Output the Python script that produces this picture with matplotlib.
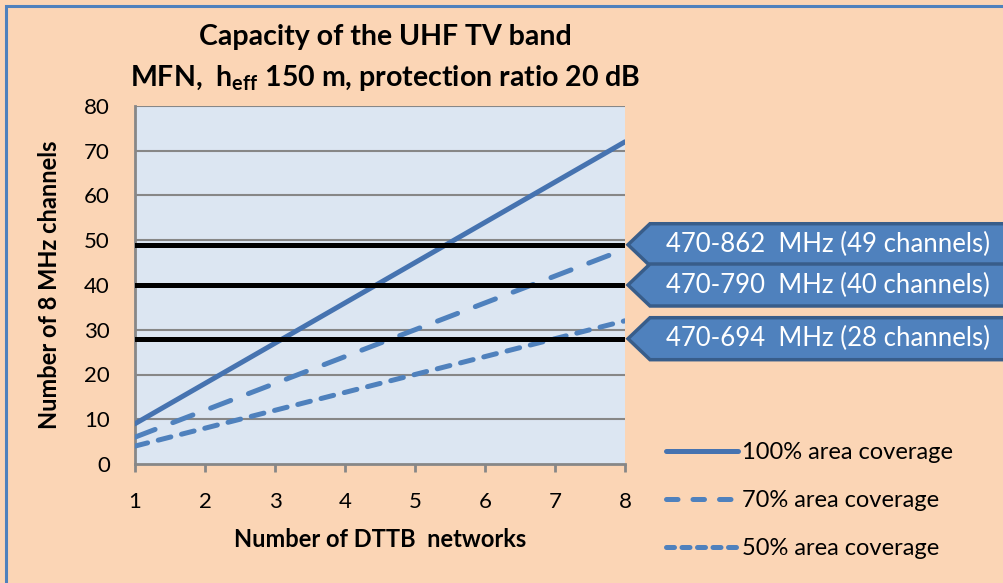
import matplotlib
matplotlib.use("Agg")
import matplotlib.pyplot as plt
from matplotlib.patches import Polygon, Rectangle
from matplotlib.lines import Line2D

plt.rcParams['font.family'] = ['Lato', 'DejaVu Sans']
plt.rcParams['mathtext.fontset'] = 'custom'
plt.rcParams['mathtext.rm'] = 'Lato'
plt.rcParams['mathtext.bf'] = 'Lato:bold'

# ---- data ----
networks = [1, 2, 3, 4, 5, 6, 7, 8]
cov100 = [9, 18, 27, 36, 45, 54, 63, 72]
cov70 = [6, 12, 18, 24, 30, 36, 42, 48]
cov50 = [4, 8, 12, 16, 20, 24, 28, 32]
series_labels = ["100% area coverage", "70% area coverage", "50% area coverage"]
band_limits = [49, 40, 28]
band_labels = ["470-862  MHz (49 channels)", "470-790  MHz (40 channels)", "470-694  MHz (28 channels)"]
yticks = [0, 10, 20, 30, 40, 50, 60, 70, 80]

W, H = 1004, 583
fig = plt.figure(figsize=(W / 100, H / 100), dpi=100)
fig.patch.set_facecolor('#FBD5B5')

# outer border (top/left visible)
fig.add_artist(Rectangle((6 / W, -0.1), 1.2, (H - 6) / H + 0.1, transform=fig.transFigure,
                         fill=False, edgecolor='#4F81BD', linewidth=2.2))

L, R, T, B = 135, 625, 106, 464
ax = fig.add_axes([L / W, (H - B) / H, (R - L) / W, (B - T) / H])
ax.set_facecolor('#DCE6F2')
ax.set_xlim(1, 8)
ax.set_ylim(0, 80)

grid_c = '#878787'
for y in yticks[1:]:
    ax.axhline(y, color=grid_c, linewidth=1.5, zorder=1)

ax.plot(networks, cov100, color='#4673B0', linewidth=3.6, solid_capstyle='round', zorder=3,
        label=series_labels[0])
ax.plot(networks, cov70, color='#4F81BD', linewidth=3.6, linestyle=(0, (4.3, 3.8)),
        dash_capstyle='round', zorder=3, label=series_labels[1])
ax.plot(networks, cov50, color='#4F81BD', linewidth=3.6, linestyle=(0, (2.6, 2.2)),
        dash_capstyle='round', zorder=3, label=series_labels[2])

for y in band_limits:
    ax.axhline(y, color='black', linewidth=3.6, zorder=4)

for s in ['top', 'right']:
    ax.spines[s].set_visible(False)
for s in ['left', 'bottom']:
    ax.spines[s].set_color(grid_c)
    ax.spines[s].set_linewidth(2)

ax.set_xticks(networks)
ax.set_yticks(yticks)
ax.tick_params(axis='x', direction='out', length=6, width=2, color=grid_c, pad=14, labelsize=16)
ax.tick_params(axis='y', length=0, pad=18, labelsize=16)

ax.set_xlabel("Number of DTTB  networks", fontsize=17, fontweight='bold', labelpad=12)
ax.set_ylabel("Number of 8 MHz channels", fontsize=17, fontweight='bold', labelpad=17)

fig.text(385 / W, 1 - 37 / H, "Capacity of the UHF TV band", ha='center', va='center',
         fontsize=20.5, fontweight='bold')
fig.text(385 / W, 1 - 78 / H, r"MFN,  $\mathbf{h_{eff}}$ 150 m, protection ratio 20 dB",
         ha='center', va='center', fontsize=20.5, fontweight='bold')

# callouts
fig.canvas.draw()
for y, lab in zip(band_limits, band_labels):
    tip_x, tip_y = ax.transData.transform((8, y))
    tip_x += 3
    half = 21
    verts = [(tip_x, tip_y), (tip_x + 22, tip_y + half), (W + 20, tip_y + half),
             (W + 20, tip_y - half), (tip_x + 22, tip_y - half)]
    poly = Polygon(verts, closed=True, transform=None, facecolor='#4F81BD',
                   edgecolor='#385D8A', linewidth=2.5, zorder=5)
    fig.add_artist(poly)
    fig.text(828 / W, tip_y / H, lab, ha='center', va='center', color='white',
             fontsize=18.5, zorder=6)

handles = [Line2D([], [], color='#4673B0', linewidth=3.6, solid_capstyle='round'),
           Line2D([], [], color='#4F81BD', linewidth=3.6, linestyle=(0, (2.3, 3.0)), dash_capstyle='round'),
           Line2D([], [], color='#4F81BD', linewidth=3.6, linestyle=(0, (1.6, 1.5)), dash_capstyle='round')]
fig.legend(handles, series_labels, loc='upper left', bbox_to_anchor=(666 / W, 1 - 442 / H),
           frameon=False, fontsize=17, handlelength=3.05, handletextpad=0.15, labelspacing=1.15,
           borderpad=0, borderaxespad=0)

fig.savefig("out.png", dpi=100, facecolor=fig.get_facecolor())
